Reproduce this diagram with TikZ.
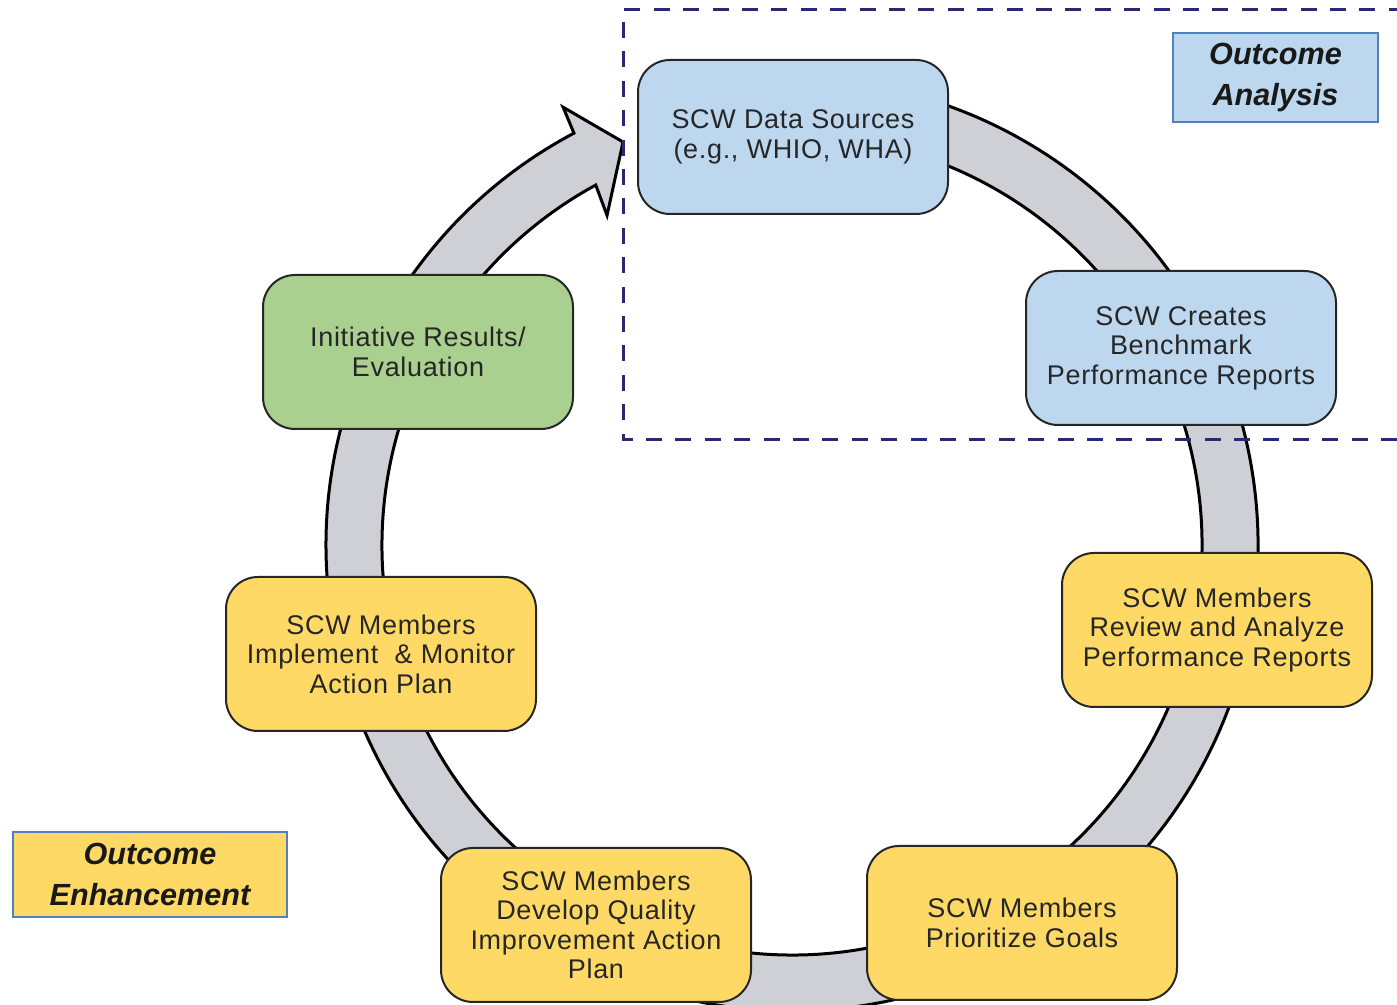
\documentclass[tikz,border=0pt]{standalone}
\usepackage{fontspec}
\setmainfont{Liberation Sans}
\newfontfamily\stepfont[LetterSpace=2.5]{Liberation Sans}
\usepackage{tikz}
\usetikzlibrary{calc,positioning}
\definecolor{boxblue}{RGB}{189,215,238}
\definecolor{boxyellow}{RGB}{255,217,102}
\definecolor{boxgreen}{RGB}{169,208,142}
\definecolor{ringgray}{RGB}{207,208,214}
\definecolor{dashnavy}{RGB}{40,40,115}
\definecolor{labeledge}{RGB}{79,129,189}

\begin{document}
\begin{tikzpicture}[x=0.5pt,y=0.5pt]
	\tikzstyle{stepbox}=[rectangle, rounded corners=16pt, draw=black!85, line width=1pt, minimum width=155pt, minimum height=77pt, inner sep=0pt, align=center, text=black!85, font=\stepfont\fontsize{13.5}{14.75}\selectfont]
	\tikzstyle{labelbox}=[rectangle, draw=labeledge, line width=1pt, inner sep=0pt, align=center, text=black!90, font=\fontsize{15.3}{20.5}\selectfont\bfseries\itshape]
	\useasboundingbox (0,0) rectangle (1397,1005);
	% cycle ring with its arrow head
	\coordinate (ctr) at (792,460);
	\filldraw[fill=ringgray, draw=black, line width=1.5pt, line join=miter]
		($(ctr)+(100:466)$) arc[start angle=100, end angle=-242.1, radius=466]
		-- ($(ctr)+(-242.4:494)$) -- ($(ctr)+(-247.25:437)$) -- ($(ctr)+(-240.7:378)$)
		-- ($(ctr)+(-241.4:410)$) arc[start angle=-241.4, end angle=100, radius=410] -- cycle;
	% outcome analysis region
	\draw[dashnavy, line width=1.5pt, dash pattern=on 8pt off 6.7pt] (1397,565) -- (623,565) -- (623,995) -- (1397,995);
	% steps
	\node[stepbox, fill=boxblue] (sources) at (793,868) {SCW Data Sources\\(e.g., WHIO, WHA)};
	\node[stepbox, fill=boxblue] (reports) at (1181,657) {SCW Creates\\Benchmark\\Performance Reports};
	\node[stepbox, fill=boxyellow] (review) at (1217,375) {SCW Members\\Review and Analyze\\Performance Reports};
	\node[stepbox, fill=boxyellow] (goals) at (1022,82) {SCW Members\\Prioritize Goals};
	\node[stepbox, fill=boxyellow] (develop) at (596,80) {SCW Members\\Develop Quality\\Improvement Action\\Plan};
	\node[stepbox, fill=boxyellow] (monitor) at (381,351) {SCW Members\\Implement~ \& Monitor\\Action Plan};
	\node[stepbox, fill=boxgreen] (results) at (418,653) {Initiative Results/\\Evaluation};
	% phase labels
	\node[labelbox, fill=boxblue, minimum width=102.5pt, minimum height=44.5pt] (analysis) at (1275.5,927.5) {Outcome\\Analysis};
	\node[labelbox, fill=boxyellow, minimum width=137pt, minimum height=42.5pt] (enhance) at (150,130.5) {Outcome\\Enhancement};
\end{tikzpicture}
\end{document}
